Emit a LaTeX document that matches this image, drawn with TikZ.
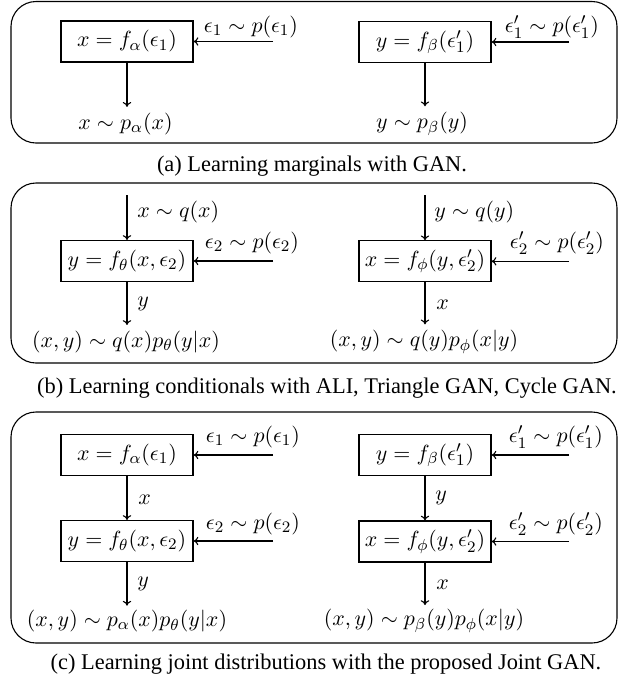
\documentclass[tikz,border=0pt]{standalone}
\usepackage[no-math]{fontspec}
\newfontfamily\capfamily{Liberation Serif}
\usetikzlibrary{arrows.meta}
\newcommand\figmathsize{\fontsize{11.2}{13.4}\selectfont}
\newcommand\mycapfont{\capfamily\fontsize{11.2}{13.4}\selectfont}
\tikzset{
  fbox/.style={draw, line width=0.55pt, minimum width=66pt, minimum height=20.5pt, inner sep=0pt, font=\figmathsize},
  lab/.style={inner sep=0pt, font=\figmathsize},
  captext/.style={inner sep=0pt, font=\mycapfont},
  panel/.style={draw, line width=0.55pt, rounded corners=12.5pt},
  arr/.style={line width=0.55pt, -{Computer Modern Rightarrow[length=2.4pt,width=4.2pt]}},
}
\begin{document}
\begin{tikzpicture}[x=0.5pt,y=-0.5pt]
\useasboundingbox (0,0) rectangle (622,687);

% ---------------- panel (a)
\draw[panel] (11,1.5) rectangle (617,143);
\node[fbox] (A1) at (127,41.5) {$x = f_\alpha(\epsilon_1)$};
\node[fbox] (A2) at (425,42) {$y = f_\beta(\epsilon'_1)$};
\node[lab] (A1n) at (251,27) {$\epsilon_1 \sim p(\epsilon_1)$};
\node[lab] (A2n) at (552,27) {$\epsilon'_1 \sim p(\epsilon'_1)$};
\coordinate (A1s) at (273,41.5);
\coordinate (A2s) at (569,42);
\draw[arr] (A1s) -- (A1.east);
\draw[arr] (A2s) -- (A2.east);
\node[lab] (A1o) at (125.5,124) {$x \sim p_\alpha(x)$};
\node[lab] (A2o) at (422,124) {$y \sim p_\beta(y)$};
\draw[arr, shorten >=2.9pt] (A1.south) -- (A1.south |- A1o.north);
\draw[arr, shorten >=2.9pt] (A2.south) -- (A2.south |- A2o.north);
\node[captext] (capa) at (312,166) {(a) Learning marginals with GAN.};

% ---------------- panel (b)
\draw[panel] (11,183) rectangle (617,363);
\node[fbox] (B1) at (127,261) {$y = f_\theta(x,\epsilon_2)$};
\node[fbox] (B2) at (425,261.3) {$x = f_\phi(y,\epsilon'_2)$};
\coordinate (B1t) at (127,195);
\coordinate (B2t) at (425,195);
\draw[arr] (B1t) -- (B1.north);
\draw[arr] (B2t) -- (B2.north);
\node[lab, anchor=west] (B1i) at (137,212) {$x \sim q(x)$};
\node[lab, anchor=west] (B2i) at (434,212) {$y \sim q(y)$};
\node[lab] (B1n) at (252,243) {$\epsilon_2 \sim p(\epsilon_2)$};
\node[lab] (B2n) at (557,243) {$\epsilon'_2 \sim p(\epsilon'_2)$};
\coordinate (B1s) at (273,261);
\coordinate (B2s) at (569,261.3);
\draw[arr] (B1s) -- (B1.east);
\draw[arr] (B2s) -- (B2.east);
\node[lab] (B1o) at (126,341.7) {$(x,y) \sim q(x)p_\theta(y|x)$};
\node[lab] (B2o) at (424,341.7) {$(x,y) \sim q(y)p_\phi(x|y)$};
\draw[arr, shorten >=2.7pt] (B1.south) -- (B1.south |- B1o.north);
\draw[arr, shorten >=2.7pt] (B2.south) -- (B2.south |- B2o.north);
\node[lab, anchor=west] (B1m) at (137,304) {$y$};
\node[lab, anchor=west] (B2m) at (436,305) {$x$};
\node[captext] (capb) at (327,388) {(b) Learning conditionals with ALI, Triangle GAN, Cycle GAN.};

% ---------------- panel (c)
\draw[panel] (11,412) rectangle (617,643);
\node[fbox] (C1) at (127,455) {$x = f_\alpha(\epsilon_1)$};
\node[fbox] (C2) at (127,541) {$y = f_\theta(x,\epsilon_2)$};
\node[fbox] (C3) at (425,455) {$y = f_\beta(\epsilon'_1)$};
\node[fbox] (C4) at (425,541.5) {$x = f_\phi(y,\epsilon'_2)$};
\node[lab] (C1n) at (253,437) {$\epsilon_1 \sim p(\epsilon_1)$};
\node[lab] (C2n) at (253,524) {$\epsilon_2 \sim p(\epsilon_2)$};
\node[lab] (C3n) at (556,437) {$\epsilon'_1 \sim p(\epsilon'_1)$};
\node[lab] (C4n) at (556,524) {$\epsilon'_2 \sim p(\epsilon'_2)$};
\coordinate (C1s) at (273,455);
\coordinate (C2s) at (273,541);
\coordinate (C3s) at (569,455);
\coordinate (C4s) at (569,541.5);
\draw[arr] (C1s) -- (C1.east);
\draw[arr] (C2s) -- (C2.east);
\draw[arr] (C3s) -- (C3.east);
\draw[arr] (C4s) -- (C4.east);
\draw[arr] (C1) -- (C2);
\draw[arr] (C3) -- (C4);
\node[lab, anchor=west] (C1m) at (138,500) {$x$};
\node[lab, anchor=west] (C3m) at (435,498) {$y$};
\node[lab] (C2o) at (127,621) {$(x,y) \sim p_\alpha(x)p_\theta(y|x)$};
\node[lab] (C4o) at (424,621) {$(x,y) \sim p_\beta(y)p_\phi(x|y)$};
\draw[arr, shorten >=2pt] (C2.south) -- (C2.south |- C2o.north);
\draw[arr, shorten >=2pt] (C4.south) -- (C4.south |- C4o.north);
\node[lab, anchor=west] (C2m) at (137,584) {$y$};
\node[lab, anchor=west] (C4m) at (436,585) {$x$};
\node[captext] (capc) at (326,664) {(c) Learning joint distributions with the proposed Joint GAN.};
\end{tikzpicture}
\end{document}
